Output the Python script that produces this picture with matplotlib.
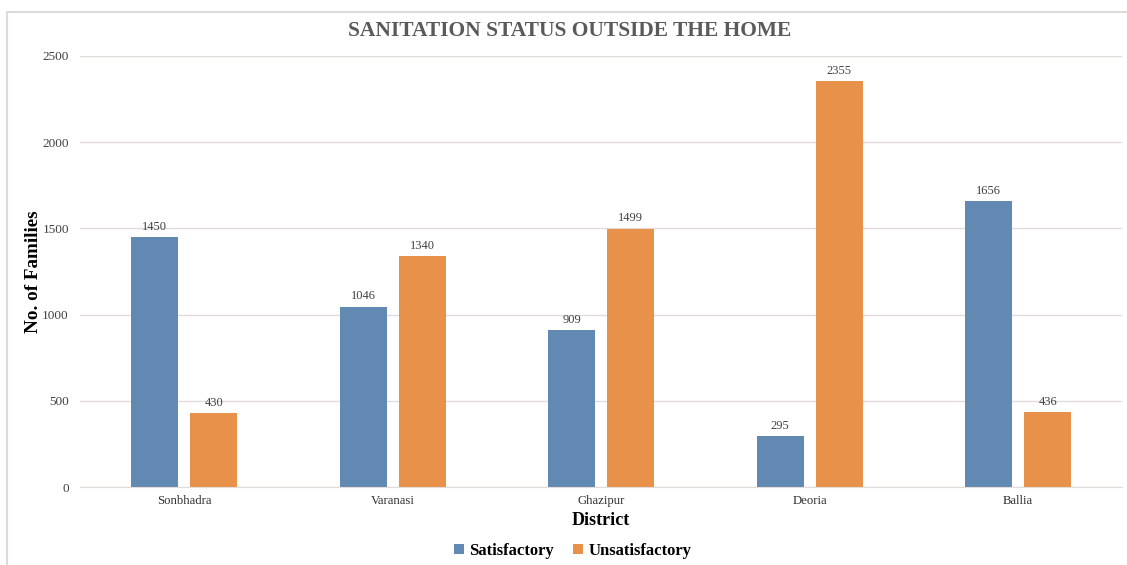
import numpy as np
import matplotlib
matplotlib.use("Agg")
import matplotlib.pyplot as plt
from matplotlib.patches import Rectangle

# data
districts = ["Sonbhadra", "Varanasi", "Ghazipur", "Deoria", "Ballia"]
satisfactory = [1450, 1046, 909, 295, 1656]
unsatisfactory = [430, 1340, 1499, 2355, 436]
series_names = ["Satisfactory", "Unsatisfactory"]
y_ticks = [0, 500, 1000, 1500, 2000, 2500]

blue = "#6189b2"
orange = "#e8914a"
grid_col = "#e3dbd8"
serif = ["Liberation Serif", "DejaVu Serif"]

plt.rcParams["font.family"] = serif

fig = plt.figure(figsize=(11.27, 5.65), dpi=100)
ax = fig.add_axes([0.071, 0.138, 0.925, 0.763])

# outer chart border
fig.patches.append(Rectangle((7 / 1127, -0.01), 1.05, 1 - 12 / 565 + 0.01,
                             transform=fig.transFigure, fill=False,
                             edgecolor="#d9d2cf", linewidth=1.2))

x = np.arange(len(districts))
w = 0.225
off = 0.1415
b1 = ax.bar(x - off, satisfactory, w, color=blue, label=series_names[0])
b2 = ax.bar(x + off, unsatisfactory, w, color=orange, label=series_names[1])

for bars, vals in ((b1, satisfactory), (b2, unsatisfactory)):
    for rect, v in zip(bars, vals):
        ax.text(rect.get_x() + rect.get_width() / 2, v + 25, str(v),
                ha="center", va="bottom", fontsize=9, color="#404040")

ax.set_xlim(-0.5, len(districts) - 0.5)
ax.set_ylim(0, 2500)
ax.set_yticks(y_ticks)
ax.set_yticklabels([str(t) for t in y_ticks], fontsize=9.5, color="#404040")
ax.set_xticks(x)
ax.set_xticklabels(districts, fontsize=9.2, color="#303030")
ax.tick_params(axis="both", length=0)
ax.tick_params(axis="y", pad=8)
ax.tick_params(axis="x", pad=6)
ax.grid(axis="y", color=grid_col, linewidth=1)
ax.set_axisbelow(True)
for s in ("top", "right", "left"):
    ax.spines[s].set_visible(False)
ax.spines["bottom"].set_color(grid_col)

ax.set_ylabel("No. of Families", fontsize=13.8, fontweight="bold")
ax.yaxis.set_label_coords(-0.036, 0.50)
ax.set_xlabel("District", fontsize=13, fontweight="bold", labelpad=3)

fig.text(0.505, 1 - 31 / 565, "SANITATION STATUS OUTSIDE THE HOME",
         ha="center", va="center", fontsize=15.5, fontweight="bold",
         color="#5a5a5a")

fig.legend(loc="center", bbox_to_anchor=(0.508, 1 - 551 / 565), ncol=2,
           frameon=False, prop={"weight": "bold", "size": 12},
           handlelength=0.6, handleheight=0.6, handletextpad=0.3,
           columnspacing=1.2)

fig.savefig("out.png", dpi=100)
